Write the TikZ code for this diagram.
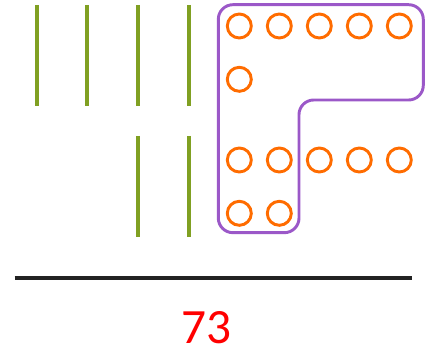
\documentclass[tikz,border=0pt]{standalone}
\usepackage{fontspec}
\setmainfont{Carlito}
\definecolor{stickgreen}{RGB}{128,160,34}
\definecolor{dotorange}{RGB}{255,108,0}
\definecolor{groupviolet}{RGB}{155,88,200}
\definecolor{rulegray}{RGB}{34,34,34}
\tikzset{
	stick/.style={line width=3pt, stickgreen},
	dot/.style={line width=2.2pt, dotorange},
	group/.style={line width=2.2pt, groupviolet, rounded corners=11pt},
}
\begin{document}
\begin{tikzpicture}[x=0.75pt, y=-0.75pt]
	\useasboundingbox (0, 0) rectangle (426, 349);
	% Zehner
	\foreach \x in {36.7, 87.3, 138, 188.7}
		\draw[stick](\x, 5) -- (\x, 106.5);
	\foreach \x in {138, 188.7}
		\draw[stick](\x, 136) -- (\x, 237.5);
	% Einer
	\foreach \x in {239.3, 279.3, 319.3, 359.3, 399.3}
		\draw[dot](\x, 26) circle (12);
	\draw[dot](239.3, 79.3) circle (12);
	\foreach \x in {239.3, 279.3, 319.3, 359.3, 399.3}
		\draw[dot](\x, 160) circle (12);
	\foreach \x in {239.3, 279.3}
		\draw[dot](\x, 213.3) circle (12);
	% Zehnerbuendel
	\draw[group](218.3, 4.7) -- (423.3, 4.7) -- (423.3, 100) -- (299, 100) -- (299, 232.7) -- (218.3, 232.7) -- cycle;
	\draw[line width=3pt, rulegray](14.7, 277.7) -- (412, 277.7);
	\node[text=red, inner sep=0pt, anchor=base, font=\fontsize{37}{40}\selectfont] (ergebnis) at (206.3, 343.3) {73};
\end{tikzpicture}
\end{document}
